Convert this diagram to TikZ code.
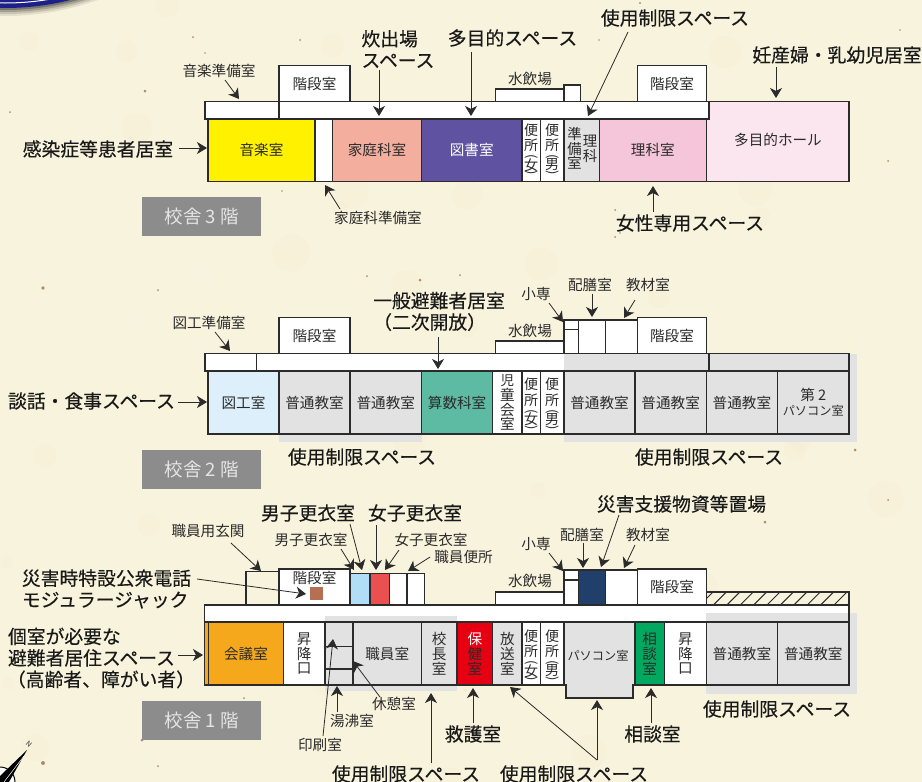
\documentclass[tikz,border=0pt]{standalone}
\usepackage{fontspec}
\usetikzlibrary{arrows.meta}
\setmainfont{Noto Sans CJK JP}
\newfontfamily\boldlab[FakeBold=0.3]{Noto Sans CJK JP}
\definecolor{paper}{HTML}{F8F3DC}
\definecolor{ink}{HTML}{2B2B2B}
\definecolor{restrict}{HTML}{E2E2E2}
\definecolor{cMusic}{HTML}{FFF100}
\definecolor{cHome}{HTML}{F4AE9E}
\definecolor{cLib}{HTML}{5F52A0}
\definecolor{cSci}{HTML}{F5C6DA}
\definecolor{cHall}{HTML}{FBE5EF}
\definecolor{cArt}{HTML}{DCEFFA}
\definecolor{cMath}{HTML}{5DBBA3}
\definecolor{cMtg}{HTML}{F5A81C}
\definecolor{cMale}{HTML}{B2DDF6}
\definecolor{cFem}{HTML}{EA5050}
\definecolor{cHealth}{HTML}{E60012}
\definecolor{cTalk}{HTML}{00A95F}
\definecolor{cStore}{HTML}{20406B}
\definecolor{cJack}{HTML}{B66F52}
\definecolor{cNavy}{HTML}{1D2088}
\tikzset{
  roombox/.style={draw=ink,line width=1.3pt,inner sep=0pt,outer sep=0pt,anchor=north west,align=center,text=ink,font=\fontsize{14.6}{14.8}\selectfont},
  biglab/.style={inner sep=0pt,text=black!90,font=\boldlab\fontsize{18.8}{21.5}\selectfont,align=left},
  smalllab/.style={inner sep=0pt,text=ink,font=\fontsize{14.6}{16}\selectfont},
  wcch/.style={inner sep=0pt,text=ink,font=\fontsize{14}{15}\selectfont},
  wcpar/.style={inner sep=0pt,text=ink,rotate=-90,font=\fontsize{13}{14}\selectfont},
  arr/.style={draw=ink,line width=0.8pt,-{Stealth[length=10pt,width=12pt,inset=3pt]}},
  floorbox/.style={fill=black!45,inner sep=0pt,text=white!90!black,minimum width=119pt,minimum height=39pt,anchor=north west,font=\fontsize{18.5}{20}\selectfont},
  speck/.style={fill=brown!70!black,opacity=.65}
}
\newcommand{\roomb}[7]{%
  \pgfmathsetmacro{\rw}{#4-#2}\pgfmathsetmacro{\rh}{#5-#3}%
  \node[roombox,fill=#6,minimum width=\rw pt,minimum height=\rh pt] (#1) at (#2,#3) {#7};}
\newcommand{\outl}[5]{%
  \pgfmathsetmacro{\rw}{#4-#2}\pgfmathsetmacro{\rh}{#5-#3}%
  \node[roombox,minimum width=\rw pt,minimum height=\rh pt] (#1) at (#2,#3) {};}
% vertical toilet label: name, centre x, base y, character
\newcommand{\bj}[4]{%
  \node[wcch] (#1a) at (#2,#3+13.5) {便};
  \node[wcch] (#1b) at (#2,#3+29) {所};
  \node[wcpar] (#1c) at (#2,#3+40.5) {(};
  \node[wcch] (#1d) at (#2,#3+48.5) {#4};
  \node[wcpar] (#1e) at (#2,#3+56.5) {)};}
\begin{document}
\begin{tikzpicture}[x=1pt,y=-1pt]
\useasboundingbox (0,0) rectangle (922,782);
\fill[paper] (0,0) rectangle (922,782);
% paper grain
\pgfmathsetseed{7}
\foreach \i in {1,...,90}{\fill[white,opacity=.04] (rnd*922,rnd*782) circle (6+rnd*16);}
\foreach \i in {1,...,40}{\fill[brown!60,opacity=.02] (rnd*922,rnd*782) circle (5+rnd*14);}
\foreach \px/\py/\pr in {145/91/1.5,193/37/1,300/40/1,10/112/1,205/53/.8,282/191/.8,615/237/1,420/280/1.5,43/288/1.8,158/290/1,367/276/1,238/676/1,142/740/1.5,43/763/2,158/766/1,244/698/1,765/522/1.5,855/450/1.5,888/500/1,888/161/1,615/210/1,599/40/.8,656/85/.8,460/275/1,855/625/1,640/3/1.2,900/30/.8,620/233/.8}
  {\fill[speck] (\px,\py) circle (\pr);}
% emblem and compass
\foreach \s/\o in {8/.08,6/.12,4/.18,2/.25}{\fill[black,opacity=\o] (5,-260) circle (268+\s);}
\fill[cNavy] (5,-260) circle (268);
\draw[white,line width=1pt] (5,-260) circle (263);
\draw[black,fill=white,line width=1pt] (0,782) circle (15);
\fill[black] (27,750) -- (0,776) -- (0,782) -- (9,782) -- cycle;
\draw[white,line width=.5pt] (24,756) -- (4,782);
\node[rotate=-40,inner sep=0pt,font=\fontsize{7}{8}\selectfont,text=ink] (north) at (29,744) {N};

%%%%%%%%%% FLOOR 3
\roomb{f3hall}{706.3}{101.5}{849}{181.5}{cHall}{}
\node[text=ink,font=\fontsize{14.6}{16}\selectfont,inner sep=0pt] (f3hallt) at (778,140) {多目的ホール};
\roomb{f3cor}{205}{101.5}{709}{119}{white}{}
\draw[draw=ink,line width=1.3pt] (279,101.5) -- (279,119);
\roomb{f3st}{279}{65.5}{350}{101.5}{white}{階段室}
\roomb{f3wa}{495.5}{89}{564}{101.5}{white}{}
\roomb{f3wb}{564}{85}{580.5}{101.5}{white}{}
\roomb{f3st2}{637.7}{65.5}{706.3}{101.5}{white}{階段室}
\roomb{f3music}{208}{119}{315}{181.5}{cMusic}{音楽室}
\roomb{f3prep}{315}{119}{332.5}{181.5}{white}{}
\roomb{f3home}{332.5}{119}{421.5}{181.5}{cHome}{家庭科室}
\roomb{f3lib}{421.5}{119}{522}{181.5}{cLib}{\textcolor{white}{図書室}}
\roomb{f3wc1}{522}{119}{540.3}{181.5}{white}{}
\roomb{f3wc2}{540.3}{119}{564}{181.5}{white}{}
\bj{f3wf}{531.2}{116.5}{女}
\bj{f3wm}{552.2}{116.5}{男}
\roomb{f3sp}{564}{119}{599.3}{181.5}{restrict}{}
\node[inner sep=0pt,align=center,text=ink,font=\fontsize{14.4}{14.5}\selectfont] (f3spa) at (574.5,148.5) {準\\備\\室};
\node[inner sep=0pt,align=center,text=ink,font=\fontsize{14.4}{14.5}\selectfont] (f3spb) at (590,149) {理\\科};
\roomb{f3sci}{599.3}{119}{706.3}{181.5}{cSci}{理科室}
\node[floorbox] (f3) at (142,197) {校舎 3 階};

\node[smalllab] (l31) at (219,71) {音楽準備室};
\node[biglab] (l32) at (398,49) {炊出場\\スペース};
\node[biglab] (l33) at (512.5,38) {多目的スペース};
\node[biglab] (l34) at (675,18) {使用制限スペース};
\node[biglab] (l35) at (837,55) {妊産婦・乳幼児居室};
\node[smalllab] (l36) at (530,79) {水飲場};
\node[biglab] (l37) at (98,149) {感染症等患者居室};
\node[smalllab] (l38) at (378,218) {家庭科準備室};
\node[biglab] (l39) at (690,223) {女性専用スペース};
\coordinate (t31) at (239,99);
\coordinate (t32) at (379,116);
\coordinate (t33) at (471,116);
\coordinate (t34) at (588,116);
\coordinate (t35) at (776,98);
\coordinate (t37) at (207,148);
\coordinate (t38) at (325,185);
\coordinate (t39) at (653,186);
\draw[arr] (225,80) -- (t31);
\draw[arr] (l32.south -| t32) ++(0,2) -- (t32);
\draw[arr] (l33.south -| t33) ++(0,5) -- (t33);
\draw[arr] (628,32) -- (t34);
\draw[arr] (l35.south -| t35) ++(0,3) -- (t35);
\draw[arr] (l37.east |- t37) ++(6,0) -- (t37);
\draw[arr] (340,209) -- (t38);
\draw[arr] (l39.north -| t39) ++(0,-2) -- (t39);

%%%%%%%%%% FLOOR 2
\fill[restrict] (564,353.7) rectangle (857,442);
\fill[restrict] (279,371) rectangle (422,442);
\fill[white] (205,353.7) rectangle (564,371);
\outl{f2cor}{205}{353.7}{709}{371}
\outl{f2cor2}{709}{353.7}{849}{371}
\draw[draw=ink,line width=1.3pt] (256.5,353.7) -- (256.5,371);
\roomb{f2st}{279}{317.5}{350}{353.7}{white}{階段室}
\roomb{f2wa}{495.5}{341}{564}{353.7}{white}{}
\roomb{f2ss}{564}{320}{578.7}{353.7}{white}{}
\draw[draw=ink,line width=1.3pt] (564,329.5) -- (578.7,329.5);
\roomb{f2hz}{578.7}{320}{605.7}{353.7}{white}{}
\roomb{f2kz}{605.7}{320}{637.7}{353.7}{white}{}
\roomb{f2st2}{637.7}{317.5}{706.3}{353.7}{white}{階段室}
\roomb{f2art}{208}{371}{279}{434}{cArt}{図工室}
\roomb{f2c1}{279}{371}{350}{434}{restrict}{普通教室}
\roomb{f2c2}{350}{371}{421.5}{434}{restrict}{普通教室}
\roomb{f2math}{421.5}{371}{492.7}{434}{cMath}{算数科室}
\roomb{f2jd}{492.7}{371}{522}{434}{white}{\fontsize{13.5}{13.7}\selectfont 児\\童\\会\\室}
\roomb{f2wc1}{522}{371}{540.3}{434}{white}{}
\roomb{f2wc2}{540.3}{371}{564}{434}{white}{}
\bj{f2wf}{531.2}{371}{女}
\bj{f2wm}{552.2}{371}{男}
\roomb{f2c3}{564}{371}{635}{434}{restrict}{普通教室}
\roomb{f2c4}{635}{371}{706.3}{434}{restrict}{普通教室}
\roomb{f2c5}{706.3}{371}{777.5}{434}{restrict}{普通教室}
\roomb{f2pc}{777.5}{371}{849}{434}{restrict}{第 2\\\fontsize{12.2}{13}\selectfont パソコン室}
\node[floorbox] (f2) at (142,450) {校舎 2 階};

\node[smalllab] (l21) at (209,323) {図工準備室};
\node[biglab] (l22) at (439,311.5) {一般避難者居室\\（二次開放）};
\node[biglab] (l23) at (91.5,401) {談話・食事スペース};
\node[biglab] (l24) at (362,457) {使用制限スペース};
\node[biglab] (l25) at (709,457) {使用制限スペース};
\node[smalllab] (l26) at (530,331) {水飲場};
\node[smalllab] (l27) at (536,294) {小専};
\node[smalllab] (l28) at (590,285) {配膳室};
\node[smalllab] (l29) at (648,285) {教材室};
\coordinate (t21) at (230,351);
\coordinate (t22) at (438,369);
\coordinate (s22) at (438,337);
\coordinate (t23) at (207,402);
\coordinate (t27) at (563,322);
\coordinate (t28) at (592,317);
\coordinate (t29) at (624,318);
\draw[arr] (215,332) -- (t21);
\draw[arr] (s22) -- (t22);
\draw[arr] (l23.east |- t23) ++(3,0) -- (t23);
\draw[arr] (549,303) -- (t27);
\draw[arr] (l28.south -| t28) ++(0,2) -- (t28);
\draw[arr] (635,300) -- (t29);

%%%%%%%%%% FLOOR 1
\fill[white] (204.5,605) rectangle (849,622.3);
\fill[restrict] (325,616) rectangle (457,691);
\fill[restrict] (706.3,613) rectangle (857,693.5);
\node[roombox,line width=1.8pt,minimum width=644.5pt,minimum height=17.3pt] (f1cor) at (204.5,605) {};
\roomb{f1gk}{246}{571.7}{279}{605}{paper}{}
\roomb{f1st}{279}{569}{350}{605}{white}{}
\node[smalllab] (f1stt) at (314.5,578) {階段室};
\fill[cJack] (310,587) rectangle (323,600);
\roomb{f1m}{350}{573.5}{370}{605}{cMale}{}
\roomb{f1f}{370}{573.5}{389.5}{605}{cFem}{}
\roomb{f1a}{389.5}{573.5}{407}{605}{white}{}
\roomb{f1b}{407}{573.5}{424.3}{605}{white}{}
\roomb{f1wa}{495.5}{592}{564}{605}{white}{}
\roomb{f1ss}{564}{570}{578.7}{605}{white}{}
\draw[draw=ink,line width=1.3pt] (564,580) -- (578.7,580);
\roomb{f1hz}{578.7}{570}{605.7}{605}{cStore}{}
\roomb{f1kz}{605.7}{570}{637.7}{605}{white}{}
\roomb{f1st2}{637.7}{569}{706.3}{605}{white}{階段室}
\begin{scope}
\clip (706.3,592) rectangle (849,605);
\foreach \hx in {700,713.4,...,870}{\draw[ink,line width=1pt] (\hx,605) -- (\hx+13,592);}
\end{scope}
\outl{f1hat}{706.3}{592}{849}{605}
% room row
\roomb{f1side}{204.5}{622.3}{208.5}{685}{cMtg}{}
\roomb{f1mtg}{208.5}{622.3}{283.5}{685}{cMtg}{会議室}
\roomb{f1ent}{283.5}{622.3}{325}{685}{white}{昇\\降\\口}
\roomb{f1pr}{325}{622.3}{353}{646.7}{restrict}{}
\roomb{f1ky}{325}{646.7}{353}{669}{restrict}{}
\roomb{f1yu}{325}{669}{353}{685}{restrict}{}
\roomb{f1st3}{353}{622.3}{421.5}{685}{restrict}{職員室}
\roomb{f1kc}{421.5}{622.3}{457}{685}{restrict}{校\\長\\室}
\roomb{f1hk}{457}{622.3}{492.7}{685}{cHealth}{\color{white}保\\健\\室}
\roomb{f1hs}{492.7}{622.3}{522}{685}{restrict}{放\\送\\室}
\roomb{f1wc1}{522}{622.3}{540.3}{685}{white}{}
\roomb{f1wc2}{540.3}{622.3}{564}{685}{white}{}
\bj{f1wf}{531.2}{622.3}{女}
\bj{f1wm}{552.2}{622.3}{男}
\path[draw=ink,line width=1.3pt,fill=restrict] (566,685) -- (566,698) -- (633,698) -- (633,685) -- cycle;
\roomb{f1pc}{564}{622.3}{635}{685}{restrict}{}
\fill[restrict] (566.7,683) rectangle (632.3,697);
\draw[ink,line width=1.3pt] (564,685) -- (566,685) (633,685) -- (635,685);
\node[inner sep=0pt,text=ink,font=\fontsize{12.2}{14}\selectfont] (f1pct) at (598,656) {パソコン室};
\roomb{f1sd}{635}{622.3}{664.3}{685}{cTalk}{相\\談\\室}
\roomb{f1ent2}{664.3}{622.3}{706.3}{685}{white}{昇\\降\\口}
\roomb{f1c1}{706.3}{622.3}{777.5}{685}{restrict}{普通教室}
\roomb{f1c2}{777.5}{622.3}{849}{685}{restrict}{普通教室}
\node[floorbox] (f1) at (142,701) {校舎 1 階};

\node[smalllab] (l101) at (208,531) {職員用玄関};
\node[biglab] (l102) at (106.5,589) {災害時特設公衆電話\\モジュラージャック};
\node[biglab] (l103) at (308,513) {男子更衣室};
\node[biglab] (l104) at (415,513) {女子更衣室};
\node[smalllab] (l105) at (311,540) {男子更衣室};
\node[smalllab] (l106) at (431,540) {女子更衣室};
\node[smalllab] (l107) at (463.5,557) {職員便所};
\node[biglab] (l108) at (101.5,658) {個室が必要な\\避難者居住スペース\\\hspace{-1pt}（高齢者、障がい者）};
\node[smalllab] (l109) at (394,704) {休憩室};
\node[smalllab] (l110) at (352,721) {湯沸室};
\node[smalllab] (l111) at (320,745) {印刷室};
\node[biglab] (l112) at (406,774) {使用制限スペース};
\node[biglab] (l113) at (473,734) {救護室};
\node[biglab] (l114) at (652.5,734) {相談室};
\node[biglab] (l115) at (574,774) {使用制限スペース};
\node[biglab] (l116) at (681.5,504) {災害支援物資等置場};
\node[smalllab] (l117) at (536,544) {小専};
\node[smalllab] (l118) at (582,535) {配膳室};
\node[smalllab] (l119) at (648,535) {教材室};
\node[smalllab] (l120) at (530,581) {水飲場};
\node[biglab] (l121) at (777,709) {使用制限スペース};
\coordinate (t101) at (261,571);
\coordinate (t102) at (306,594);
\coordinate (t103) at (362,570);
\coordinate (t104) at (376,570);
\coordinate (t105) at (354,570);
\coordinate (t106) at (385,570);
\coordinate (t107) at (408,571);
\coordinate (t108) at (203,655);
\coordinate (t109) at (353,661);
\coordinate (t110) at (337,686);
\coordinate (t111) at (333,639);
\coordinate (t112) at (431,693);
\coordinate (t113) at (473,688);
\coordinate (t114) at (651,688);
\coordinate (t115a) at (597,700);
\coordinate (t115b) at (510,687);
\coordinate (j115) at (597,760);
\coordinate (t116) at (601,567);
\coordinate (t117) at (563,571);
\coordinate (t118) at (583,568);
\coordinate (t119) at (624,568);
\draw[arr] (231,543) -- (t101);
\draw[arr] (197,579) -- (t102);
\draw[arr] (350,524) -- (t103);
\draw[arr] (l104.south -| t104) ++(0,3) -- (t104);
\draw[arr] (341,549) -- (t105);
\draw[arr] (399,550) -- (t106);
\draw[arr] (l107.west |- t107) ++(-4,-14) -- (t107);
\draw[arr] (178,655) -- (t108);
\draw[arr] (380,697) -- (t109);
\draw[arr] (l110.north -| t110) ++(0,-2) -- (t110);
\draw[arr] (323,736) -- (t111);
\draw[arr] (l112.north -| t112) ++(0,-2) -- (t112);
\draw[arr] (l113.north -| t113) ++(0,-2) -- (t113);
\draw[arr] (l114.north -| t114) ++(0,-2) -- (t114);
\draw[arr] (j115) -- (t115a);
\draw[arr] (j115) -- (t115b);
\draw[arr] (619,515) -- (t116);
\draw[arr] (549,553) -- (t117);
\draw[arr] (l118.south -| t118) ++(0,1) -- (t118);
\draw[arr] (635,545) -- (t119);
\end{tikzpicture}
\end{document}
